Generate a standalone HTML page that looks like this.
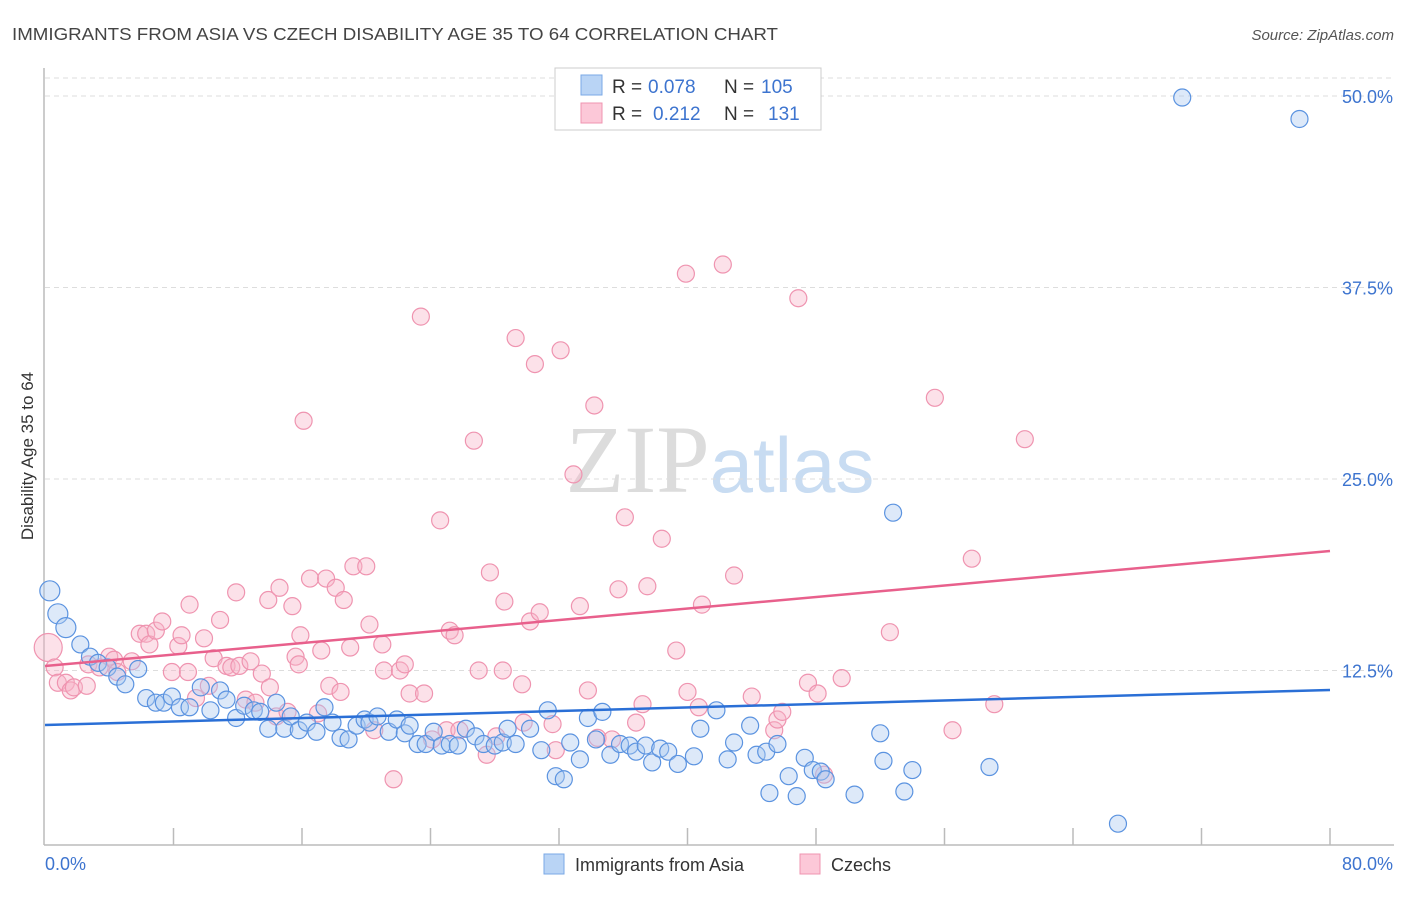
<!DOCTYPE html>
<html><head><meta charset="utf-8"><style>
body{margin:0;background:#fff;font-family:"Liberation Sans",sans-serif}
svg text{font-family:"Liberation Sans",sans-serif}
</style></head><body>
<svg id="chart" width="1406" height="892" xmlns="http://www.w3.org/2000/svg">
<text x="12" y="40" font-size="17.5" fill="#444" textLength="766" lengthAdjust="spacingAndGlyphs">IMMIGRANTS FROM ASIA VS CZECH DISABILITY AGE 35 TO 64 CORRELATION CHART</text>
<text x="1394" y="40" font-size="15" fill="#555" font-style="italic" text-anchor="end">Source: ZipAtlas.com</text>
<text x="720" y="492" font-size="96" text-anchor="middle"><tspan font-family="Liberation Serif" fill="#dcdcdc">ZIP</tspan><tspan fill="#c8dcf2" font-size="78">atlas</tspan></text>
<g id="grid"></g>
<g id="axes"></g>
<g id="pts"></g>
<g id="lines"></g>
<text transform="translate(33,456) rotate(-90)" font-size="17" fill="#333" text-anchor="middle">Disability Age 35 to 64</text>
<g font-size="19">
<rect x="555" y="68" width="266" height="62" fill="#fff" stroke="#ccc"/>
<rect x="581" y="75" width="21" height="20" fill="#b9d4f5" stroke="#7aa8e6"/>
<rect x="581" y="103" width="21" height="20" fill="#fcc8d8" stroke="#ef94b0"/>
<text x="612" y="93" fill="#333">R =</text><text x="648" y="93" fill="#3d74cf">0.078</text>
<text x="724" y="93" fill="#333">N =</text><text x="761" y="93" fill="#3d74cf">105</text>
<text x="612" y="120" fill="#333">R =</text><text x="653" y="120" fill="#3d74cf">0.212</text>
<text x="724" y="120" fill="#333">N =</text><text x="768" y="120" fill="#3d74cf">131</text>
</g>
<g>
<rect x="544" y="854" width="20" height="20" fill="#b9d4f5" stroke="#7aa8e6"/>
<text x="575" y="871" font-size="18" fill="#333">Immigrants from Asia</text>
<rect x="800" y="854" width="20" height="20" fill="#fcc8d8" stroke="#ef94b0"/>
<text x="831" y="871" font-size="18" fill="#333">Czechs</text>
</g>
</svg>
<script>
const yTicks=[12.5,25,37.5,50];
const yTickLabels=["12.5%","25.0%","37.5%","50.0%"];
const xTickLabels=["0.0%","80.0%"];
const blueX=[0.3,0.8,1.3,2.2,2.8,3.3,3.9,4.5,5.0,5.8,6.3,6.9,7.4,7.9,8.4,9.0,9.7,10.3,10.9,11.3,11.9,12.4,13.0,13.4,13.9,14.4,14.9,15.3,15.8,16.3,16.9,17.4,17.9,18.4,18.9,19.4,19.9,20.2,20.7,21.4,21.9,22.4,22.7,23.2,23.7,24.2,24.7,25.2,25.7,26.2,26.8,27.3,28.0,28.5,28.8,29.3,30.2,30.9,31.3,31.8,32.3,32.7,33.3,33.8,34.3,34.7,35.2,35.8,36.4,36.8,37.4,37.8,38.3,38.8,39.4,40.4,40.8,41.8,42.5,42.9,43.9,44.3,44.9,45.1,45.6,46.3,46.8,47.3,47.8,48.3,48.6,50.4,52.0,52.2,52.8,53.5,54.0,58.8,66.8,70.8,78.1];
const blueY=[17.7,16.2,15.3,14.2,13.4,13.0,12.7,12.1,11.6,12.6,10.7,10.4,10.4,10.8,10.1,10.1,11.4,9.9,11.2,10.6,9.4,10.2,9.9,9.8,8.7,10.4,8.7,9.5,8.6,9.1,8.5,10.1,9.1,8.1,8.0,8.9,9.3,9.1,9.5,8.5,9.3,8.4,8.9,7.7,7.7,8.5,7.6,7.7,7.6,8.7,8.2,7.7,7.6,7.8,8.7,7.7,8.7,7.3,9.9,5.6,5.4,7.8,6.7,9.4,8.0,9.8,7.0,7.7,7.6,7.2,7.6,6.5,7.4,7.2,6.4,6.9,8.7,9.9,6.7,7.8,8.9,7.0,7.2,4.5,7.7,5.6,4.3,6.8,6.0,5.9,5.4,4.4,8.4,6.6,22.8,4.6,6.0,6.2,2.5,49.9,48.5];
const pinkX=[0.2,0.6,0.8,1.3,1.6,1.8,2.6,2.7,3.4,4.0,4.3,4.5,5.4,5.9,6.3,6.5,6.9,7.3,7.9,8.3,8.5,8.9,9.0,9.4,9.9,10.2,10.5,10.9,11.3,11.6,11.9,12.1,12.5,12.8,13.1,13.5,13.9,14.0,14.4,14.6,15.1,15.4,15.6,15.8,15.9,16.1,16.5,17.0,17.2,17.5,17.7,18.1,18.4,18.6,19.0,19.2,20.0,20.2,20.5,21.0,21.1,21.7,22.1,22.4,22.7,23.4,23.6,24.1,24.6,25.0,25.2,25.5,25.8,26.7,27.0,27.5,27.7,28.1,28.5,28.6,29.3,29.7,29.8,30.2,30.5,30.8,31.6,31.8,32.1,32.9,33.3,33.8,34.2,34.4,35.3,35.7,36.1,36.8,37.2,37.5,38.4,39.3,39.9,40.0,40.7,40.9,42.2,42.9,44.0,45.4,45.6,45.9,46.9,47.5,48.1,48.5,49.6,52.6,55.4,56.5,57.7,59.1,61.0];
const pinkY=[14.0,12.7,11.7,11.7,11.2,11.4,11.5,12.9,12.7,13.4,13.2,12.4,13.1,14.9,14.9,14.2,15.1,15.7,12.4,14.1,14.8,12.4,16.8,10.7,14.6,11.5,13.3,15.8,12.8,12.7,17.6,12.8,10.6,13.1,10.4,12.3,17.1,11.4,9.5,17.9,9.8,16.7,13.4,12.9,14.8,28.8,18.5,9.7,13.8,18.5,11.5,17.9,11.1,17.1,14.0,19.3,19.3,15.5,8.6,14.2,12.5,5.4,12.5,12.9,11.0,35.6,11.0,8.0,22.3,8.6,15.1,14.8,8.6,27.5,12.5,7.0,18.9,8.2,12.5,17.0,34.2,11.6,9.1,15.7,32.5,16.3,9.0,7.3,33.4,25.3,16.7,11.2,29.8,8.1,8.0,17.8,22.5,9.1,10.3,18.0,21.1,13.8,38.4,11.1,10.1,16.8,39.0,18.7,10.8,8.6,9.3,9.8,36.8,11.7,11.0,5.7,12.0,15.0,30.3,8.6,19.8,10.3,27.6];
const blueTrend=[8.94,11.23];
const pinkTrend=[12.79,20.30];
const X0=45,X1=1330,XMAX=80,Y0=862,YS=15.32;
const sx=v=>X0+(v/XMAX)*(X1-X0);
const sy=v=>Y0-v*YS;
const NS="http://www.w3.org/2000/svg";
function mk(tag,attrs,parent){const e=document.createElementNS(NS,tag);for(const k in attrs)e.setAttribute(k,attrs[k]);parent.appendChild(e);return e;}
const grid=document.getElementById('grid'),axes=document.getElementById('axes'),pts=document.getElementById('pts'),lines=document.getElementById('lines');
yTicks.forEach((t,i)=>{
 const l=mk('line',{x1:X0,x2:1394,y1:sy(t),y2:sy(t),stroke:'#ddd','stroke-dasharray':'5,4'},grid);
 
 
 const tx=mk('text',{x:1393,y:sy(t)+7,'font-size':18,fill:'#3d74cf','text-anchor':'end'},axes);
 tx.textContent=yTickLabels[i];
 
 
});
const topl=mk('line',{x1:X0,x2:1394,y1:78,y2:78,stroke:'#ddd','stroke-dasharray':'5,4'},grid);


const ya=mk('line',{x1:44,x2:44,y1:68,y2:845,stroke:'#bbb','stroke-width':1.5},axes);


const xa=mk('line',{x1:44,x2:1394,y1:845,y2:845,stroke:'#bbb','stroke-width':1.5},axes);


for(let v=8;v<=80;v+=8){
 const tk=mk('line',{x1:sx(v),x2:sx(v),y1:828,y2:845,stroke:'#bbb','stroke-width':1.5},axes);
 
 
}
[[0,'start',45],[80,'end',1393]].forEach((d,i)=>{
 const tx=mk('text',{x:d[2],y:870,'font-size':18,fill:'#3d74cf','text-anchor':d[1]},axes);
 tx.textContent=xTickLabels[i];
 
 
});
pinkX.forEach((x,i)=>{
 const c=mk('circle',{cx:sx(x),cy:sy(pinkY[i]),r:i===0?14:8.5,fill:'rgba(248,180,200,0.4)',stroke:'#ef94b0','stroke-width':1.2},pts);
 
 
});
blueX.forEach((x,i)=>{
 const c=mk('circle',{cx:sx(x),cy:sy(blueY[i]),r:i<3?10:8.5,fill:'rgba(170,200,240,0.4)',stroke:'#5b93e0','stroke-width':1.2},pts);
 
 
});
const bl=mk('line',{x1:sx(0),y1:sy(blueTrend[0]),x2:sx(80),y2:sy(blueTrend[1]),stroke:'#2a6fd6','stroke-width':2.5},lines);


const pl=mk('line',{x1:sx(0),y1:sy(pinkTrend[0]),x2:sx(80),y2:sy(pinkTrend[1]),stroke:'#e8608c','stroke-width':2.5},lines);


</script>
</body></html>
